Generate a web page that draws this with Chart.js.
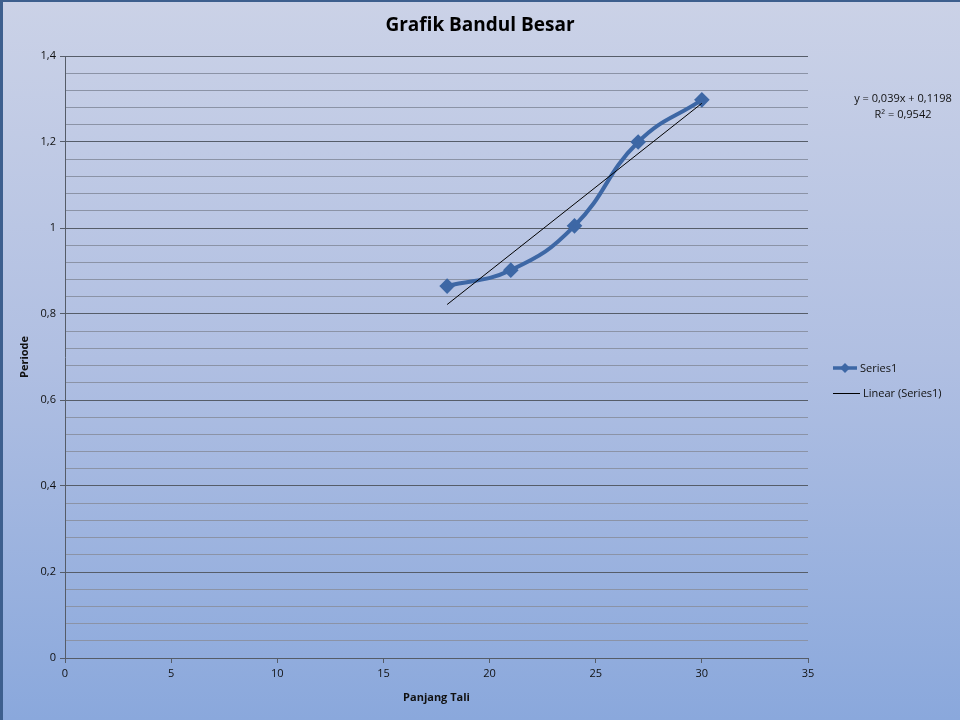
<!DOCTYPE html>
<html>
<head>
<meta charset="utf-8">
<title>Grafik Bandul Besar</title>
<script src="https://cdn.jsdelivr.net/npm/chart.js@4"></script>
<style>
  html, body { margin: 0; padding: 0; }
  #wrap { width: 960px; height: 720px; }
</style>
</head>
<body>
<div id="wrap"><canvas id="grafik" width="960" height="720"></canvas></div>
<script>
// data
const panjangTali = [18, 21, 24, 27, 30];
const periode = [0.865, 0.902, 1.005, 1.2, 1.298];
// end points of the linear trend line as drawn
const trendX = [18, 30];
const trendY = [0.822, 1.290];
const persamaan = ["y = 0,039x + 0,1198", "R² = 0,9542"];
const judul = "Grafik Bandul Besar";

const fontName = "'Open Sans', 'Liberation Sans', sans-serif";

function isMajor(v) {
  return Math.abs(v / 0.2 - Math.round(v / 0.2)) < 1e-6;
}

// background, frame, title, legend and the trend equation
const hiasan = {
  id: "hiasan",
  beforeDraw(chart) {
    const ctx = chart.ctx;
    const w = chart.width, h = chart.height;
    const g = ctx.createLinearGradient(0, 0, 0, h);
    g.addColorStop(0, "#cbd2e7");
    g.addColorStop(0.5, "#b0bfe2");
    g.addColorStop(1, "#8aa8dc");
    ctx.save();
    ctx.fillStyle = g;
    ctx.fillRect(0, 0, w, h);
    ctx.fillStyle = "#3d5f8e";
    ctx.fillRect(0, 0, w, 2);
    ctx.fillRect(0, 0, 3, h);
    ctx.restore();
  },
  afterDraw(chart) {
    const ctx = chart.ctx;
    ctx.save();
    ctx.fillStyle = "#000";
    ctx.textAlign = "center";
    ctx.textBaseline = "middle";
    ctx.font = "bold 19px " + fontName;
    ctx.fillText(judul, 480, 26);

    ctx.font = "11px " + fontName;
    ctx.fillStyle = "#111";
    ctx.fillText(persamaan[0], 903, 99);
    ctx.fillText(persamaan[1], 903, 115);

    // legend
    ctx.textAlign = "left";
    ctx.strokeStyle = "#3d67a5";
    ctx.lineWidth = 3.5;
    ctx.beginPath();
    ctx.moveTo(833, 368);
    ctx.lineTo(857, 368);
    ctx.stroke();
    ctx.fillStyle = "#3d67a5";
    ctx.beginPath();
    ctx.moveTo(845, 363);
    ctx.lineTo(850, 368);
    ctx.lineTo(845, 373);
    ctx.lineTo(840, 368);
    ctx.closePath();
    ctx.fill();
    ctx.fillStyle = "#111";
    ctx.fillText("Series1", 860, 369);

    ctx.strokeStyle = "#000";
    ctx.lineWidth = 1;
    ctx.beginPath();
    ctx.moveTo(833, 393.5);
    ctx.lineTo(860, 393.5);
    ctx.stroke();
    ctx.fillText("Linear (Series1)", 863, 394);
    ctx.restore();
  }
};

const chart = new Chart(document.getElementById("grafik"), {
  type: "scatter",
  data: {
    datasets: [
      {
        label: "Series1",
        data: panjangTali.map((x, i) => ({ x: x, y: periode[i] })),
        showLine: true,
        tension: 0.45,
        borderColor: "#3d67a5",
        backgroundColor: "#3d67a5",
        borderWidth: 4,
        pointStyle: "rectRot",
        pointRadius: 5,
        pointHoverRadius: 5,
        order: 2
      },
      {
        label: "Linear (Series1)",
        data: trendX.map((x, i) => ({ x: x, y: trendY[i] })),
        showLine: true,
        borderColor: "#000",
        borderWidth: 1,
        pointRadius: 0,
        order: 1
      }
    ]
  },
  options: {
    responsive: false,
    animation: false,
    layout: { padding: { left: 18, top: 56, right: 152, bottom: 12 } },
    plugins: {
      legend: { display: false },
      title: { display: false },
      tooltip: { enabled: false }
    },
    scales: {
      x: {
        type: "linear",
        min: 0,
        max: 35,
        ticks: {
          stepSize: 5,
          color: "#111",
          font: { family: fontName, size: 11 },
          padding: 4
        },
        grid: {
          drawOnChartArea: false,
          color: "#555c68",
          tickLength: 5
        },
        border: { color: "#555c68", width: 1 },
        title: {
          display: true,
          text: "Panjang Tali",
          color: "#111",
          font: { family: fontName, size: 11, weight: "bold" },
          padding: { top: 6 }
        },
        afterFit(s) { s.height = 50; }
      },
      y: {
        type: "linear",
        min: 0,
        max: 1.4,
        ticks: {
          stepSize: 0.04,
          autoSkip: false,
          color: "#111",
          font: { family: fontName, size: 11 },
          padding: 4,
          callback(v) {
            if (!isMajor(v)) return "";
            return String(Math.round(v * 10) / 10).replace(".", ",");
          }
        },
        grid: {
          color(c) { return isMajor(c.tick.value) ? "#565d69" : "#8b93a6"; },
          tickColor(c) { return isMajor(c.tick.value) ? "#565d69" : "rgba(0,0,0,0)"; },
          tickLength: 5
        },
        border: { color: "#555c68", width: 1 },
        title: {
          display: true,
          text: "Periode",
          color: "#111",
          font: { family: fontName, size: 11, weight: "bold" },
          padding: 0
        },
        afterFit(s) { s.width = 47; }
      }
    }
  },
  plugins: [hiasan]
});
</script>
</body>
</html>
